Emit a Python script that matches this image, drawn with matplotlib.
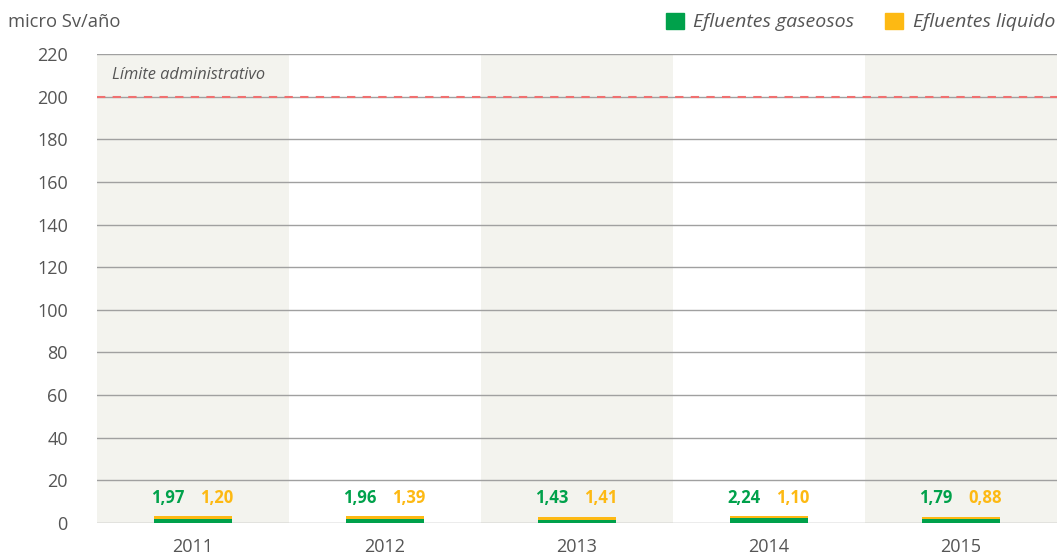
import matplotlib.pyplot as plt
import numpy as np
from matplotlib.patches import Patch

years = ["2011", "2012", "2013", "2014", "2015"]
gaseosos = [1.97, 1.96, 1.43, 2.24, 1.79]
liquidos = [1.20, 1.39, 1.41, 1.10, 0.88]
limite = 200
yticks = list(range(0, 221, 20))

GREEN = "#00a14b"
YELLOW = "#fdb913"
BAND = "#f3f3ee"
TEXT = "#555555"

plt.rcParams["font.family"] = ["Open Sans", "DejaVu Sans"]

fig = plt.figure(figsize=(10.57, 5.55), dpi=100)
ax = fig.add_axes([97 / 1057, 32 / 555, 960 / 1057, 469 / 555])

x = np.arange(len(years))
ax.set_xlim(-0.5, len(years) - 0.5)
ax.set_ylim(0, 220)

# alternating background bands
for i in x:
    if i % 2 == 0:
        ax.axvspan(i - 0.5, i + 0.5, color=BAND, lw=0, zorder=0)

for t in yticks:
    ax.axhline(t, color="#a0a0a0", lw=1, zorder=1)

ax.bar(x, gaseosos, 0.41, color=GREEN, zorder=3)
ax.bar(x, liquidos, 0.41, bottom=gaseosos, color=YELLOW, zorder=3)

for i in x:
    ax.text(i - 0.13, 11.5, f"{gaseosos[i]:.2f}".replace(".", ","), color=GREEN,
            fontsize=12, fontweight="bold", ha="center", va="center", zorder=4)
    ax.text(i + 0.125, 11.5, f"{liquidos[i]:.2f}".replace(".", ","), color=YELLOW,
            fontsize=12, fontweight="bold", ha="center", va="center", zorder=4)

ax.axhline(limite, color="#f07070", lw=1.5, ls=(0, (4, 3.5)), zorder=2)
ax.text(-0.42, 210, "Límite administrativo", fontsize=11.8, style="italic",
        color=TEXT, va="center", ha="left")

ax.set_xticks(x)
ax.set_xticklabels(years)
ax.set_yticks(yticks)
ax.tick_params(length=0, labelsize=13, labelcolor=TEXT)
ax.tick_params(axis="x", pad=11)
ax.tick_params(axis="y", pad=21)
for s in ax.spines.values():
    s.set_visible(False)

fig.text(8 / 1057, 1 - 22 / 555, "micro Sv/año", fontsize=13.2, color=TEXT, va="center")

handles = [Patch(color=GREEN), Patch(color=YELLOW)]
fig.legend(handles, ["Efluentes gaseosos", "Efluentes liquido"], ncol=2,
           loc="center right", bbox_to_anchor=(1.0, 1 - 22 / 555), frameon=False,
           prop={"size": 14, "style": "italic"}, labelcolor=TEXT,
           handlelength=0.9, handleheight=0.9, handletextpad=0.5, columnspacing=1.6,
           borderaxespad=0, borderpad=0.1)

fig.savefig("out.png", dpi=100)
